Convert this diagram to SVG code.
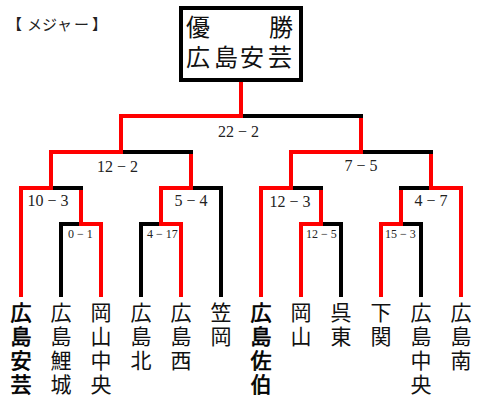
<svg xmlns="http://www.w3.org/2000/svg" width="480" height="400" viewBox="0 0 480 400">
<style>
.b{stroke:#000;stroke-width:4;fill:none;stroke-linecap:butt}
.r{stroke:#ff0000;stroke-width:4;fill:none;stroke-linecap:butt}
.sc{font-family:"Liberation Serif","Times New Roman",serif;fill:#222}
.s16{font-size:16px}
.s12{font-size:12px}
.tm{font-family:"Noto Sans CJK JP","Noto Sans CJK SC",sans-serif;font-size:21px;fill:#111;writing-mode:vertical-rl;letter-spacing:3px}
.win{stroke:#000;stroke-width:0.7px;fill:#000}
.wb{font-family:"Noto Sans CJK JP","Noto Sans CJK SC",sans-serif;font-size:24px;fill:#111}
.hd{font-family:"Noto Sans CJK JP","Noto Sans CJK SC",sans-serif;font-size:15px;fill:#222}
</style>
<rect width="480" height="400" fill="#fff"/>
<g id="connectors">
  <path class="b" d="M61 226V297M141 226V297M221 190V297M341 226V297M421 226V297"/>
  <path class="r" d="M21 190V297M101 226V297M181 226V297M261 190V297M301 226V297M381 226V297M461 190V297"/>
  <path class="r" d="M81 190V222M161 190V222M321 190V222M401 190V222M51 154V186M191 154V186M291 154V186M431 154V186M121 118V150M361 118V150M241 80V114"/>
  <path class="b" d="M59 224H83M139 224H163M319 224H343M399 224H423M49 188H83M189 188H223M289 188H323M399 188H433M119 152H193M359 152H433M239 116H363"/>
  <path class="r" d="M79 224H103M159 224H183M299 224H323M379 224H403M19 188H53M159 188H193M259 188H293M429 188H463M49 152H123M289 152H363M119 116H243"/>
</g>
<g id="scores" class="sc">
  <text class="s16" x="218" y="136.5">22 − 2</text>
  <text class="s16" x="97" y="171.5">12 − 2</text>
  <text class="s16" x="344.5" y="170.5">7 − 5</text>
  <text class="s16" x="27.5" y="205.7">10 − 3</text>
  <text class="s16" x="174.5" y="206">5 − 4</text>
  <text class="s16" x="269.5" y="206.5">12 − 3</text>
  <text class="s16" x="414.5" y="206">4 − 7</text>
  <text class="s12" x="68" y="237.7">0 − 1</text>
  <text class="s12" x="147" y="237.7">4 − 17</text>
  <text class="s12" x="306" y="237.5">12 − 5</text>
  <text class="s12" x="385" y="237.5">15 − 3</text>
</g>
<g id="header">
  <text class="hd" x="7 27 42 57 74 92" y="30">【メジャー】</text>
</g>
<g id="champion">
  <rect x="181" y="8" width="120" height="72" fill="#fff" stroke="#000" stroke-width="4"/>
  <text class="wb" x="186" y="36">優</text>
  <text class="wb" x="269" y="36">勝</text>
  <text class="wb" x="186 214 240 268" y="65.5">広島安芸</text>
</g>
<g id="team-hiroshima-aki"><text class="tm win" x="21" y="302">広島安芸</text></g>
<g id="team-hiroshima-rijo"><text class="tm" x="61" y="302">広島鯉城</text></g>
<g id="team-okayama-chuo"><text class="tm" x="101" y="302">岡山中央</text></g>
<g id="team-hiroshima-kita"><text class="tm" x="141" y="302">広島北</text></g>
<g id="team-hiroshima-nishi"><text class="tm" x="181" y="302">広島西</text></g>
<g id="team-kasaoka"><text class="tm" x="221" y="302">笠岡</text></g>
<g id="team-hiroshima-saeki"><text class="tm win" x="261" y="302">広島佐伯</text></g>
<g id="team-okayama"><text class="tm" x="301" y="302">岡山</text></g>
<g id="team-kure-higashi"><text class="tm" x="341" y="302">呉東</text></g>
<g id="team-shimonoseki"><text class="tm" x="381" y="302">下関</text></g>
<g id="team-hiroshima-chuo"><text class="tm" x="421" y="302">広島中央</text></g>
<g id="team-hiroshima-minami"><text class="tm" x="461" y="302">広島南</text></g>
</svg>
